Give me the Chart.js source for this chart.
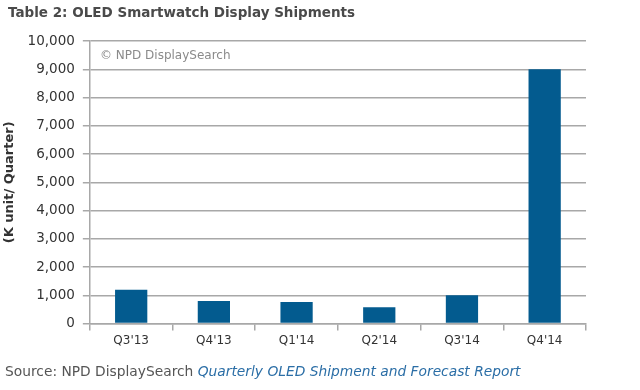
<!DOCTYPE html>
<html>
<head>
<meta charset="utf-8">
<script src="https://cdn.jsdelivr.net/npm/chart.js@4/dist/chart.umd.min.js"></script>
<style>
  body { margin: 0; background: #fff; }
  #wrap { position: relative; width: 640px; height: 390px; font-family: "DejaVu Sans", Verdana, sans-serif; }
  #title { position: absolute; left: 8px; top: 4px; font-size: 13.5px; font-weight: bold; color: #4a4a4a; }
  #mark { position: absolute; left: 100px; top: 48px; font-size: 12px; color: #8a8a8a; }
  #source { position: absolute; left: 5px; top: 363px; font-size: 13.8px; color: #555; }
  #source i { color: #2b6ea6; }
  canvas { position: absolute; left: 0; top: 0; }
</style>
</head>
<body>
<div id="wrap">
  <canvas id="chart" width="640" height="390"></canvas>
  <div id="title">Table 2: OLED Smartwatch Display Shipments</div>
  <div id="mark">© NPD DisplaySearch</div>
  <div id="source">Source: NPD DisplaySearch <i>Quarterly OLED Shipment and Forecast Report</i></div>
</div>
<script>
  var quarters = ["Q3'13", "Q4'13", "Q1'14", "Q2'14", "Q3'14", "Q4'14"];
  var shipments = [1200, 800, 760, 580, 1000, 9000];
  var yTitle = '(K unit/ Quarter)';

  var gridColor = '#a8a8a8';
  var ctx = document.getElementById('chart').getContext('2d');
  new Chart(ctx, {
    type: 'bar',
    data: {
      labels: quarters,
      datasets: [{
        data: shipments,
        backgroundColor: '#035b8f',
        barPercentage: 0.39,
        categoryPercentage: 1
      }]
    },
    options: {
      responsive: false,
      animation: false,
      layout: { padding: { left: 0, right: 54, top: 41, bottom: 39 } },
      plugins: {
        legend: { display: false },
        tooltip: { enabled: false }
      },
      scales: {
        x: {
          grid: { offset: true, drawOnChartArea: false, drawTicks: true, tickLength: 7, color: gridColor, lineWidth: 1.5 },
          border: { color: gridColor, width: 1.5 },
          ticks: { color: '#333', font: { family: 'DejaVu Sans', size: 12 }, padding: 3 }
        },
        y: {
          min: 0,
          max: 10000,
          ticks: {
            stepSize: 1000,
            color: '#333',
            font: { family: 'DejaVu Sans', size: 13.5 },
            padding: 8,
            callback: function(v) { return v.toLocaleString('en-US'); }
          },
          grid: { color: gridColor, lineWidth: 1.5, tickLength: 7 },
          border: { color: gridColor, width: 1.5 },
          title: { display: true, text: yTitle, color: '#333', font: { family: 'DejaVu Sans', size: 13, weight: 'bold' }, padding: 2 }
        }
      }
    }
  });
</script>
</body>
</html>
